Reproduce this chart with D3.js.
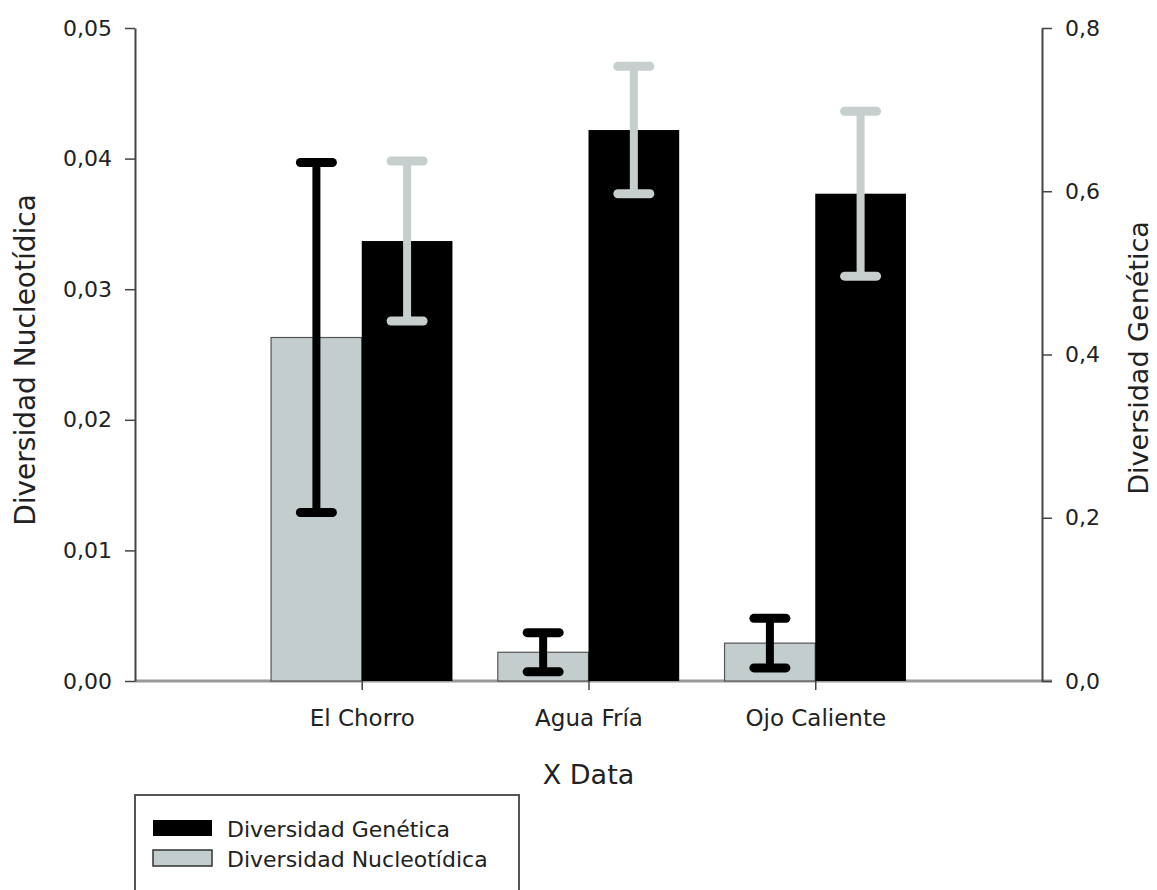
<!DOCTYPE html>
<html>
<head>
<meta charset="utf-8">
<style>
  body { margin: 0; background: #fff; }
  svg text { font-family: "DejaVu Sans", sans-serif; fill: #222; }
</style>
</head>
<body>
<svg width="1157" height="890"></svg>
<script src="https://d3js.org/d3.v7.min.js"></script>
<script>
// data
var categories = ["El Chorro", "Agua Fría", "Ojo Caliente"];
var nucleotidica = [0.0263, 0.0022, 0.0029];
var nucleotidicaErr = [0.0134, 0.0015, 0.0019];
var genetica = [0.539, 0.675, 0.597];
var geneticaErr = [0.098, 0.078, 0.101];
var leftTicks = [0, 0.01, 0.02, 0.03, 0.04, 0.05];
var rightTicks = [0, 0.2, 0.4, 0.6, 0.8];

var grayFill = "#c4cdcd", grayErr = "#c6cece";

var svg = d3.select("svg");
var plotLeft = 135, plotRight = 1042, plotTop = 28, plotBottom = 681;

var x = d3.scalePoint().domain(categories).range([plotLeft, plotRight]).padding(1);
var yL = d3.scaleLinear().domain([0, 0.05]).range([plotBottom, plotTop]);
var yR = d3.scaleLinear().domain([0, 0.8]).range([plotBottom, plotTop]);
var bw = x.step() * 0.4;

function comma(f) { return function(d) { return d3.format(f)(d).replace(".", ","); }; }

// baseline
svg.append("line")
  .attr("x1", plotLeft).attr("x2", plotRight + 10)
  .attr("y1", plotBottom).attr("y2", plotBottom)
  .attr("stroke", "#999").attr("stroke-width", 3);

// bars
var rows = categories.map(function(c, i) {
  return { c: c, n: nucleotidica[i], ne: nucleotidicaErr[i], g: genetica[i], ge: geneticaErr[i] };
});

svg.selectAll(".bn").data(rows).enter().append("rect")
  .attr("x", function(d) { return x(d.c) - bw; })
  .attr("y", function(d) { return yL(d.n); })
  .attr("width", bw)
  .attr("height", function(d) { return plotBottom - yL(d.n); })
  .attr("fill", grayFill).attr("stroke", "#555").attr("stroke-width", 1.2);

svg.selectAll(".bg").data(rows).enter().append("rect")
  .attr("x", function(d) { return x(d.c); })
  .attr("y", function(d) { return yR(d.g); })
  .attr("width", bw)
  .attr("height", function(d) { return plotBottom - yR(d.g); })
  .attr("fill", "#000");

// error bars
function errorBar(cx, y0, y1, color) {
  var g = svg.append("g").attr("stroke", color).attr("stroke-linecap", "round");
  g.append("line").attr("x1", cx).attr("x2", cx).attr("y1", y0).attr("y2", y1)
    .attr("stroke-width", 8).attr("stroke-linecap", "butt");
  [y0, y1].forEach(function(yy) {
    g.append("line").attr("x1", cx - 16).attr("x2", cx + 16).attr("y1", yy).attr("y2", yy)
      .attr("stroke-width", 9);
  });
}
rows.forEach(function(d) {
  errorBar(x(d.c) - bw / 2, yL(d.n + d.ne), yL(d.n - d.ne), "#000");
  errorBar(x(d.c) + bw / 2, yR(d.g + d.ge), yR(d.g - d.ge), grayErr);
});

// axes
function styleAxis(g, size) {
  g.select(".domain").attr("stroke", "#444").attr("stroke-width", 2);
  g.selectAll(".tick line").attr("stroke", "#444").attr("stroke-width", 1.5);
  g.selectAll(".tick text").attr("font-size", size).attr("fill", "#222")
    .attr("font-family", '"DejaVu Sans", sans-serif');
}

var gl = svg.append("g").attr("transform", "translate(" + plotLeft + ",0)")
  .call(d3.axisLeft(yL).tickValues(leftTicks).tickFormat(comma(".2f")).tickSize(10).tickSizeOuter(0).tickPadding(13));
styleAxis(gl, 22);

var gr = svg.append("g").attr("transform", "translate(" + plotRight + ",0)")
  .call(d3.axisRight(yR).tickValues(rightTicks).tickFormat(comma(".1f")).tickSize(10).tickSizeOuter(0).tickPadding(13));
styleAxis(gr, 22);

var gx = svg.append("g").attr("transform", "translate(0," + plotBottom + ")")
  .call(d3.axisBottom(x).tickSize(9).tickSizeOuter(0));
gx.select(".domain").remove();
styleAxis(gx, 23);
gx.selectAll(".tick text").attr("y", 45).attr("dy", 0);

// titles
svg.append("text").attr("transform", "translate(35,360) rotate(-90)")
  .attr("text-anchor", "middle").attr("font-size", 28).text("Diversidad Nucleotídica");
svg.append("text").attr("transform", "translate(1148,358) rotate(-90)")
  .attr("text-anchor", "middle").attr("font-size", 27).text("Diversidad Genética");
svg.append("text").attr("x", x(categories[1])).attr("y", 784)
  .attr("text-anchor", "middle").attr("font-size", 27).text("X Data");

// legend
var lg = svg.append("g");
lg.append("rect").attr("x", 135).attr("y", 795).attr("width", 384).attr("height", 130)
  .attr("fill", "#fff").attr("stroke", "#555").attr("stroke-width", 2);
var legendItems = [
  { label: "Diversidad Genética", fill: "#000", stroke: "none" },
  { label: "Diversidad Nucleotídica", fill: grayFill, stroke: "#333" }
];
legendItems.forEach(function(d, i) {
  lg.append("rect").attr("x", 153).attr("y", 820 + i * 30).attr("width", 59).attr("height", 16)
    .attr("fill", d.fill).attr("stroke", d.stroke).attr("stroke-width", 1.5);
  lg.append("text").attr("x", 227).attr("y", 837 + i * 30).attr("font-size", 22).text(d.label);
});
</script>
</body>
</html>
